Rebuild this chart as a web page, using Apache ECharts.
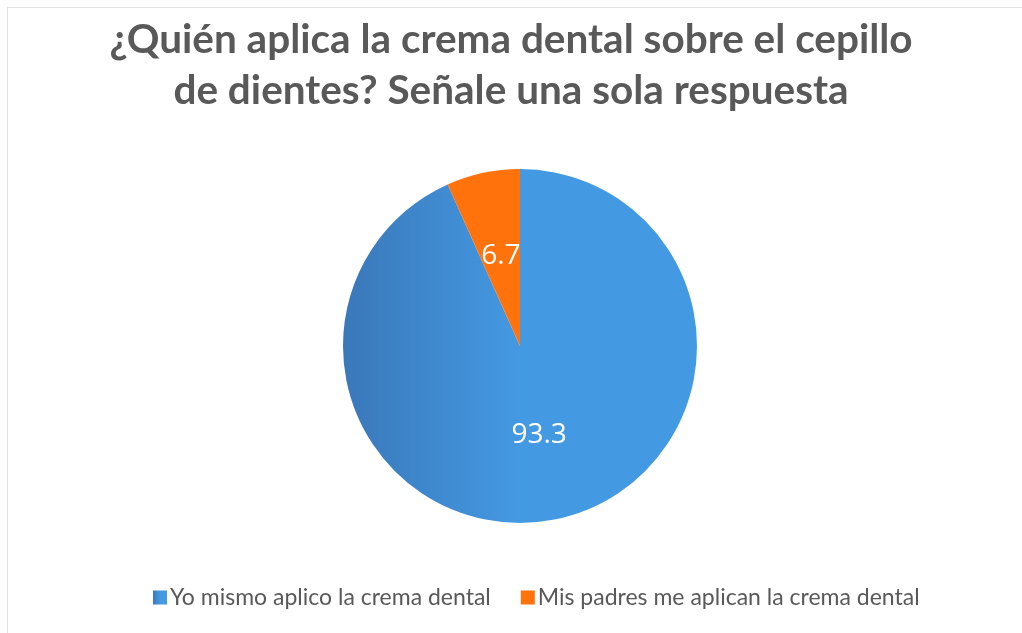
<!DOCTYPE html>
<html><head><meta charset="utf-8">
<script src="https://cdn.jsdelivr.net/npm/echarts@6/dist/echarts.min.js"></script>
<style>
html,body{margin:0;padding:0;background:#fff;}
#frame{position:absolute;left:7px;top:7px;width:1015px;height:626px;border-left:1px solid #e3e3e3;border-top:1px solid #e3e3e3;}
#chart{position:absolute;left:0;top:0;width:1022px;height:633px;}
</style></head>
<body>
<div id="frame"></div>
<div id="chart"></div>
<script>
const titleText = '¿Quién aplica la crema dental sobre el cepillo\nde dientes? Señale una sola respuesta';
const categories = ['Yo mismo aplico la crema dental', 'Mis padres me aplican la crema dental'];
const values = [93.3, 6.7];
const colors = [
  {type:'linear', x:0, y:0, x2:1, y2:0, colorStops:[{offset:0, color:'#3A78B9'},{offset:0.5, color:'#4499E3'},{offset:1, color:'#4499E3'}]},
  '#FF720C'
];
const chart = echarts.init(document.getElementById('chart'), null, {renderer:'canvas'});
chart.setOption({
  animation:false,
  title:{
    text:titleText, left:'center', top:9,
    textStyle:{fontFamily:'Lato', fontWeight:'bold', fontSize:40.5, color:'#595959', lineHeight:51}
  },
  legend:{
    bottom:19, left:148, itemWidth:14, itemHeight:14, itemGap:30, icon:'rect',
    textStyle:{fontFamily:'Lato', fontSize:23, color:'#595959', padding:[0,0,0,-2]},
    data:categories
  },
  series:[{
    type:'pie', center:[520,346], radius:[0,177], startAngle:90, clockwise:true,
    label:{show:true, position:'inside', color:'#fff', fontSize:28, fontFamily:'Open Sans', formatter:p=>p.value.toFixed(1)},
    labelLine:{show:false},
    itemStyle:{borderWidth:0},
    emphasis:{disabled:true},
    data: categories.map((c,i)=>({name:c, value:values[i], itemStyle:{color:colors[i]}}))
  }]
});
</script>
</body></html>
